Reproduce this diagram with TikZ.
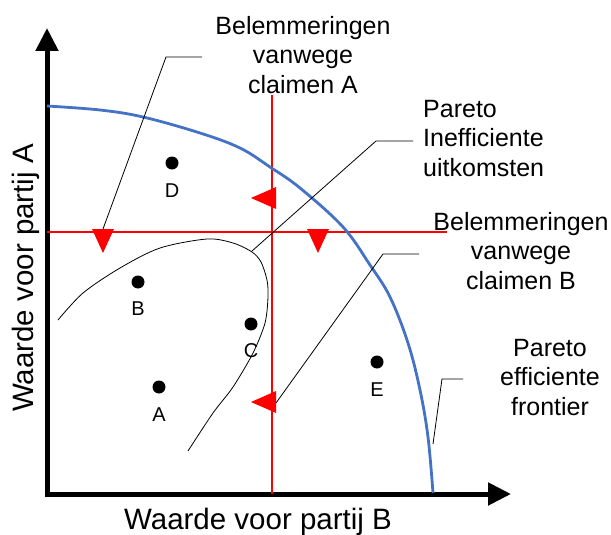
\documentclass[tikz,border=0pt]{standalone}
\usepackage{fontspec}
\setmainfont{Liberation Sans}
\usetikzlibrary{arrows.meta, positioning}
\definecolor{FrontBlue}{HTML}{4472C4}
\definecolor{ClaimRed}{HTML}{FF0000}

\begin{document}
\begin{tikzpicture}[x=1pt, y=-1pt,
    tekst/.style={font=\fontsize{25}{29.5}\selectfont, inner sep=0pt},
    aslabel/.style={font=\fontsize{29.5}{33}\selectfont, inner sep=0pt},
    punt/.style={circle, fill=black, inner sep=0pt, minimum size=13pt},
    puntlabel/.style={font=\fontsize{20}{23}\selectfont},
    leider/.style={draw=black, line width=0.8pt},
    claim/.style={draw=ClaimRed, line width=1.8pt},
    astip/.style={line width=5pt, {Triangle[length=23pt,width=22pt]}-{Triangle[length=23pt,width=22pt]}}]
  \useasboundingbox (0,0) rectangle (611,535);

  % assen
  \coordinate (ytop) at (47,28);
  \coordinate (oorsprong) at (47,494);
  \coordinate (xeind) at (511,494);
  \draw[astip] (ytop) -- (oorsprong) -- (xeind);
  \node[aslabel, anchor=base] (xlabel) at (258,529) {Waarde voor partij B};
  \node[aslabel, anchor=base, rotate=90] (ylabel) at (33,278) {Waarde voor partij A};

  % claimlijnen
  \coordinate (vtop) at (272,95);
  \coordinate (vbodem) at (272,494);
  \coordinate (hlinks) at (47,232);
  \coordinate (hrechts) at (447,232);
  \draw[claim] (vtop) -- (vbodem);
  \draw[claim] (hlinks) -- (hrechts);

  % pareto frontier
  \draw[FrontBlue, line width=2.8pt] plot[smooth, tension=0.6] coordinates {(47,106) (100,110) (143,117) (200,133) (240,148) (270,167) (300,188) (343,227) (370,265) (390,297) (408,343) (420,390) (428,437) (433,493)};

  % inefficiente uitkomsten
  \draw[line width=0.8pt] plot[smooth] coordinates {(58,320) (83,293) (120,268) (160,248) (207,239) (233,243) (252,252) (261,262) (267,280) (268,297) (265,323) (253,353) (233,387) (213,413) (188,451)};

  % uitkomsten
  \node[punt] (D) at (172,163) {};
  \node[puntlabel] (Dlabel) at (172,191) {D};
  \node[punt] (B) at (138,282) {};
  \node[puntlabel] (Blabel) at (138,309) {B};
  \node[punt] (C) at (251,324) {};
  \node[puntlabel] (Clabel) at (251,351) {C};
  \node[punt] (A) at (159,387) {};
  \node[puntlabel] (Alabel) at (159,415) {A};
  \node[punt] (E) at (377,362) {};
  \node[puntlabel] (Elabel) at (377,390) {E};

  % teksten
  \node[tekst, align=center, anchor=north] (claimA) at (303,16) {Belemmeringen\\vanwege\\claimen A};
  \node[tekst, align=left, anchor=north west] (inefficient) at (423,100) {Pareto\\Inefficiente\\uitkomsten};
  \node[tekst, align=center, anchor=north] (claimB) at (521,212) {Belemmeringen\\vanwege\\claimen B};
  \node[tekst, align=center, anchor=north] (efficient) at (550,339) {Pareto\\efficiente\\frontier};

  % leiders
  \coordinate (leiderA1) at (202,57);
  \coordinate (leiderA2) at (166,57);
  \coordinate (pijlA) at (103,229);
  \draw[leider] (leiderA1) -- (leiderA2) -- (pijlA);
  \coordinate (leiderI1) at (413,141);
  \coordinate (leiderI2) at (376,141);
  \coordinate (curvepunt) at (252,251);
  \draw[leider] (leiderI1) -- (leiderI2) -- (curvepunt);
  \coordinate (leiderB1) at (419,254);
  \coordinate (leiderB2) at (383,254);
  \coordinate (pijlB) at (276,403);
  \draw[leider] (leiderB1) -- (leiderB2) -- (pijlB);
  \coordinate (leiderF1) at (463,379);
  \coordinate (leiderF2) at (442,379);
  \coordinate (frontpunt) at (433,444);
  \draw[leider] (leiderF1) -- (leiderF2) -- (frontpunt);

  % pijlpunten
  \fill[ClaimRed] (92,229) -- (114,229) -- (103,253) -- cycle;
  \fill[ClaimRed] (307,229) -- (329,229) -- (318,253) -- cycle;
  \fill[ClaimRed] (276,187) -- (276,209) -- (251,198) -- cycle;
  \fill[ClaimRed] (276,391) -- (276,413) -- (251,402) -- cycle;
\end{tikzpicture}
\end{document}
